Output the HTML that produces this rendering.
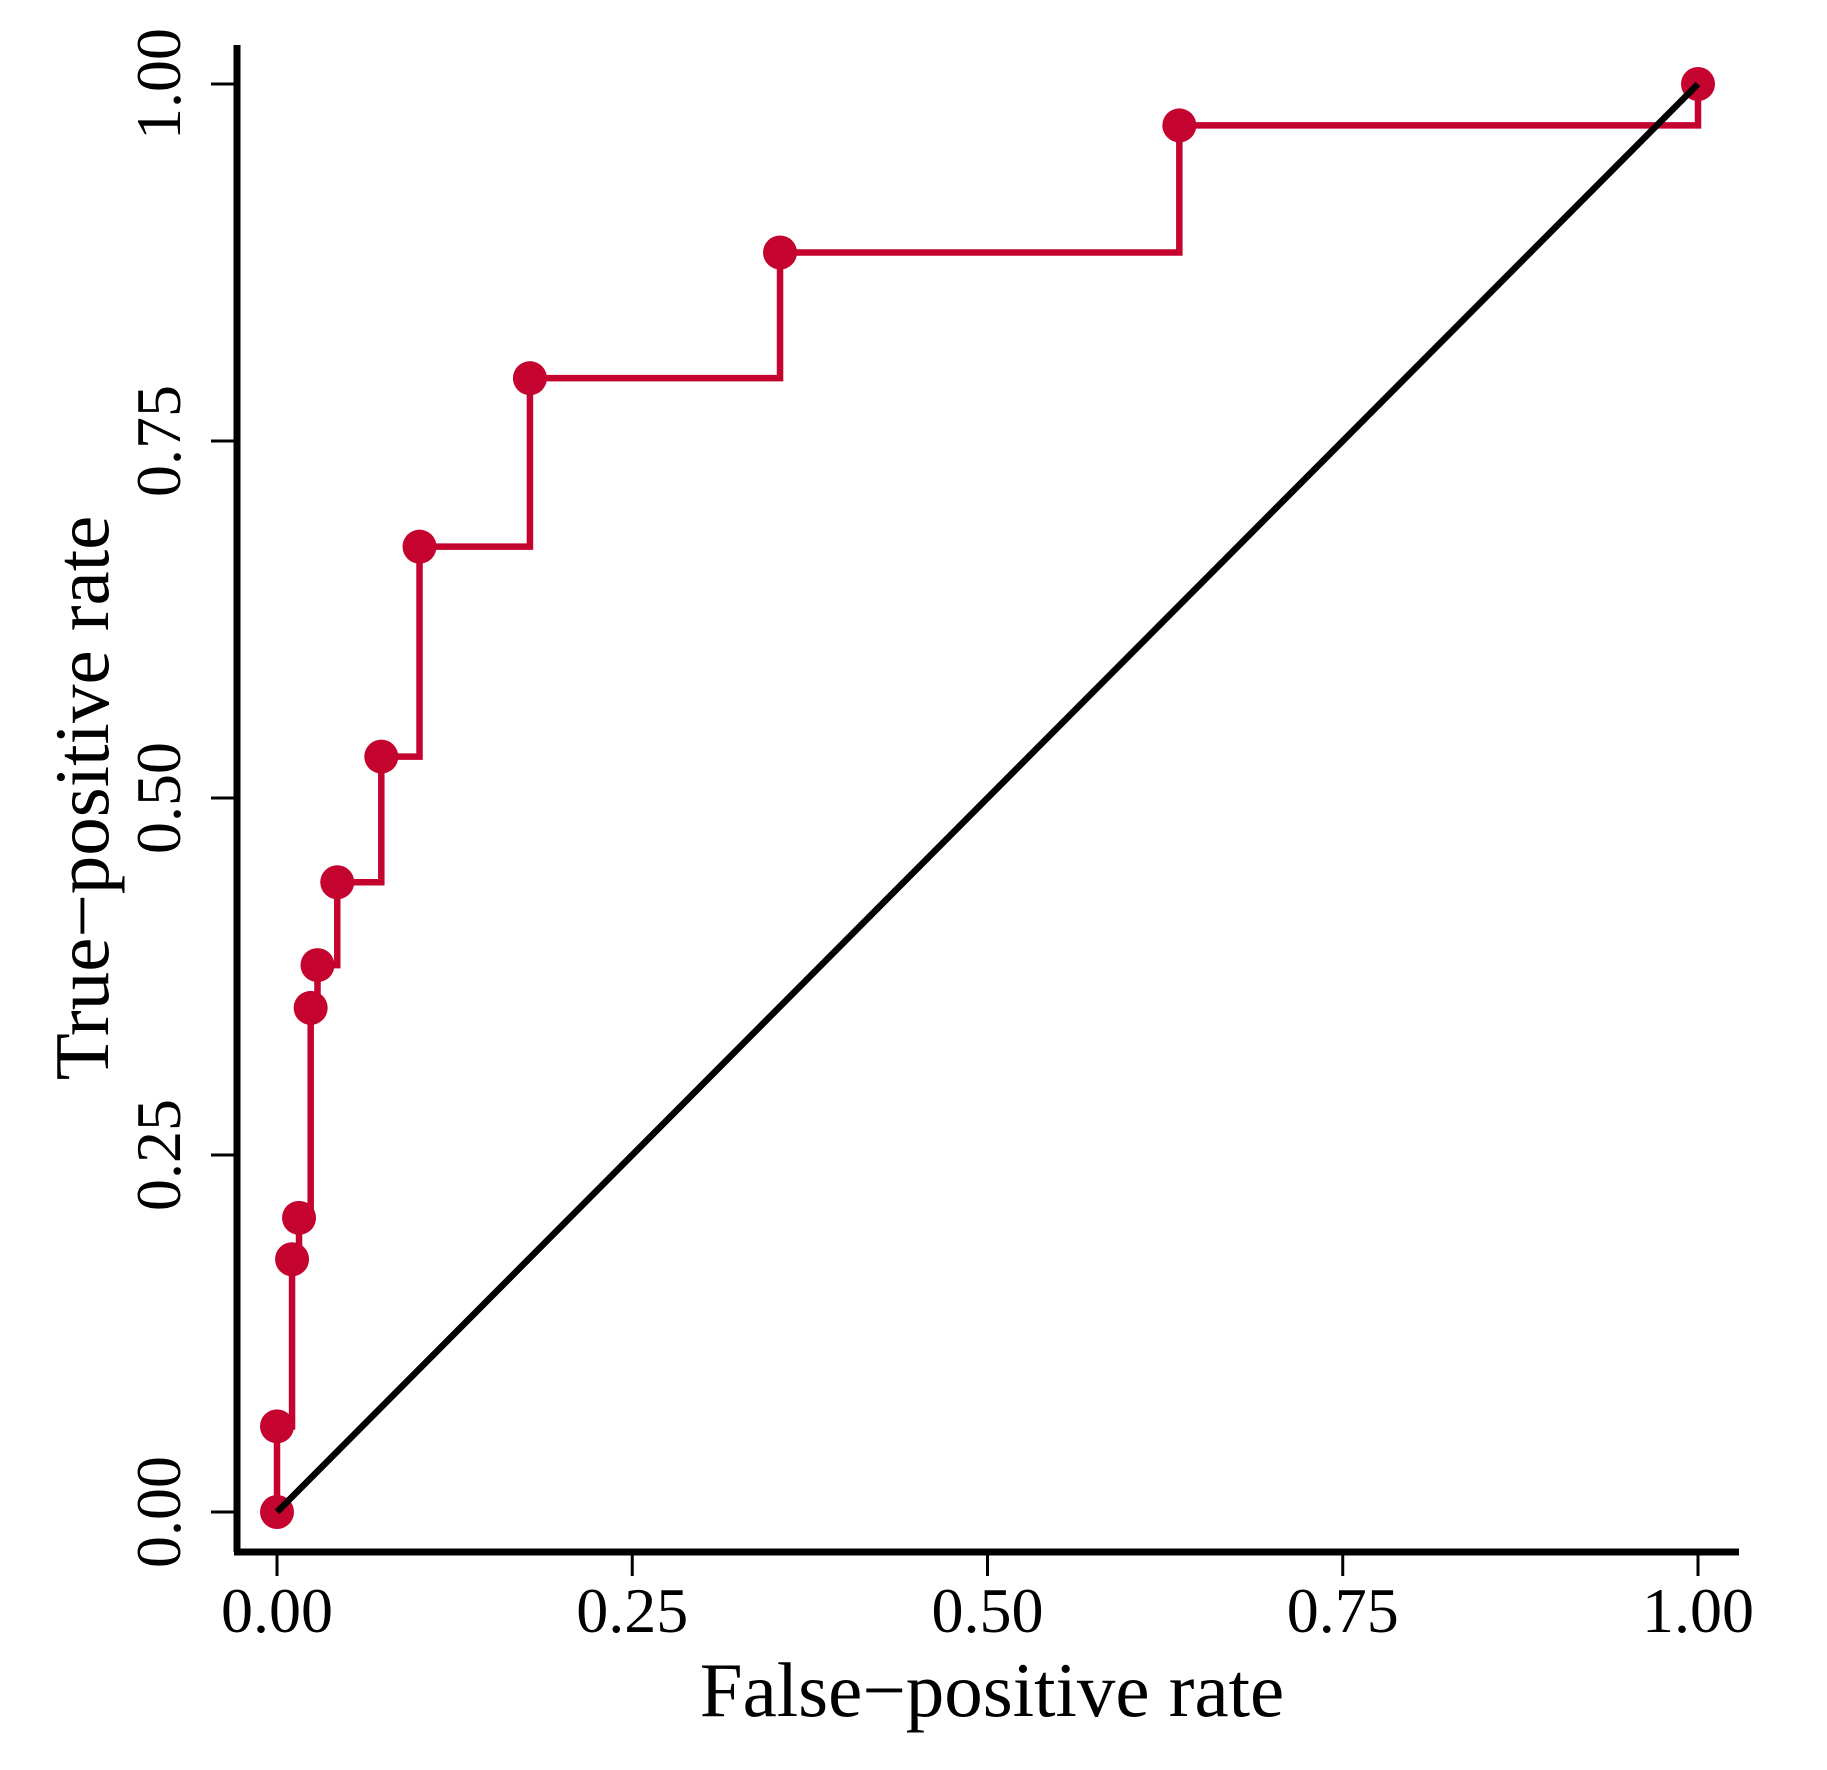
<!DOCTYPE html>
<html><head><meta charset="utf-8"><style>
html,body{margin:0;padding:0;background:#fff;}
svg{display:block;font-family:"Liberation Serif",serif;}
</style></head><body>
<svg id="chart" width="1827" height="1770" viewBox="0 0 1827 1770" xmlns="http://www.w3.org/2000/svg">
<rect width="1827" height="1770" fill="#fff"/>
<g id="axes"></g>
<g id="plot"></g>
</svg>
<script>
const fprValues = [0, 0, 0.0106, 0.0155, 0.0237, 0.0285, 0.0424, 0.0734, 0.1003, 0.178, 0.354, 0.635, 1];
const tprValues = [0, 0.06, 0.177, 0.206, 0.353, 0.383, 0.441, 0.529, 0.676, 0.794, 0.882, 0.971, 1];
const tickValues = [0, 0.25, 0.5, 0.75, 1];
const tickLabels = ["0.00", "0.25", "0.50", "0.75", "1.00"];
const refLine = [[0, 0], [1, 1]];

const NS = "http://www.w3.org/2000/svg";
const X0 = 277, X1 = 1698, Y0 = 1512, Y1 = 84;
function xs(v){ return X0 + v * (X1 - X0); }
function ys(v){ return Y0 - v * (Y0 - Y1); }
function mk(tag, attrs, parent){
  const e = document.createElementNS(NS, tag);
  for (const k in attrs) e.setAttribute(k, attrs[k]);
  parent.appendChild(e);
  return e;
}
const axes = document.getElementById('axes');
const plot = document.getElementById('plot');

let yAxis = mk('line', {x1:237, y1:45, x2:237, y2:1552, stroke:'#000', 'stroke-width':7}, axes);


let xAxis = mk('line', {x1:234, y1:1552, x2:1739, y2:1552, stroke:'#000', 'stroke-width':7}, axes);



tickValues.forEach((v, i) => {
  const tx = mk('line', {x1:xs(v), y1:1552, x2:xs(v), y2:1576, stroke:'#000', 'stroke-width':3}, axes);
  
  
  const lx = mk('text', {x:xs(v), y:1632, 'font-size':64, 'text-anchor':'middle', fill:'#000'}, axes);
  lx.textContent = tickLabels[i];
  
  
  const ty = mk('line', {x1:211, y1:ys(v), x2:237, y2:ys(v), stroke:'#000', 'stroke-width':3}, axes);
  
  
  const ly = mk('text', {x:0, y:0, 'font-size':64, 'text-anchor':'middle', fill:'#000', transform:`translate(180,${ys(v)}) rotate(-90)`}, axes);
  ly.textContent = tickLabels[i];
  
  
});

const xt = mk('text', {x:992, y:1716, 'font-size':77, 'text-anchor':'middle', fill:'#000'}, axes);
xt.textContent = 'False\u2212positive rate';


const yt = mk('text', {x:0, y:0, 'font-size':77, 'text-anchor':'middle', fill:'#000', transform:`translate(108,${ys(0.5)}) rotate(-90)`}, axes);
yt.textContent = 'True\u2212positive rate';



let d = `M${xs(fprValues[0])},${ys(tprValues[0])}`;
for (let i = 1; i < fprValues.length; i++){
  d += ` H${xs(fprValues[i])} V${ys(tprValues[i])}`;
}
const roc = mk('path', {d:d, fill:'none', stroke:'#c4032f', 'stroke-width':6.5}, plot);



fprValues.forEach((v, i) => {
  const c = mk('circle', {cx:xs(v), cy:ys(tprValues[i]), r:17, fill:'#c4032f'}, plot);
  
  
});

const diag = mk('line', {x1:xs(refLine[0][0]), y1:ys(refLine[0][1]), x2:xs(refLine[1][0]), y2:ys(refLine[1][1]), stroke:'#000', 'stroke-width':6.5}, plot);


</script>
</body></html>
